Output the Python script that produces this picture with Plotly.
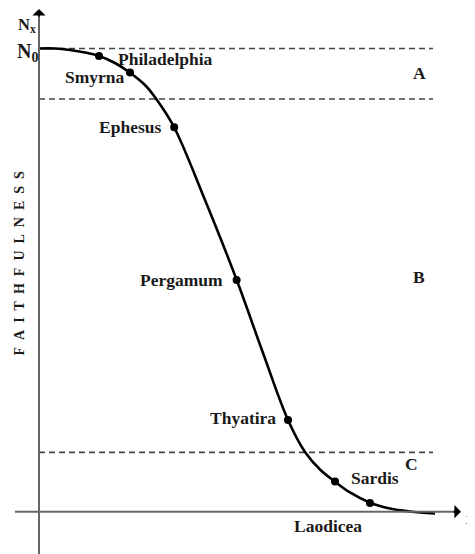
import plotly.graph_objects as go

# ---- data ----
churches = ["Philadelphia", "Smyrna", "Ephesus", "Pergamum", "Thyatira", "Sardis", "Laodicea"]
church_x = [1.5, 2.275, 3.38, 4.94, 6.225, 7.4, 8.275]
church_y = [0.984, 0.948, 0.830, 0.500, 0.198, 0.065, 0.019]

curve_x = [0.0, 0.4, 0.775, 1.15, 1.5, 1.9, 2.275, 2.65, 2.95, 3.375, 4.15, 4.943,
           5.6, 6.225, 6.65, 7.025, 7.4, 7.775, 8.275, 8.775, 9.275, 9.9]
curve_y = [1.0, 1.0, 0.9968, 0.9914, 0.9838, 0.9687, 0.9478, 0.9212, 0.8888, 0.8305,
           0.6729, 0.5002, 0.3426, 0.1980, 0.1289, 0.0911, 0.0648, 0.0415, 0.0194,
           0.0069, 0.0004, -0.0039]

zone_bounds = [1.0, 0.891, 0.128]
zone_labels = ["A", "B", "C"]

# ---- layout helpers ----
OFF = 8            # page body margin
W, H = 475 - OFF, 554 - OFF


def px(x):         # page pixel -> paper x
    return (x - OFF) / W


def py(y):         # page pixel -> paper y
    return 1 - (y - OFF) / H


FONT = "Liberation Serif, Times New Roman, serif"
INK = "#1a1a1a"
label_shift = {
    "Philadelphia": (66, -3), "Smyrna": (-35, -4), "Ephesus": (-44, 0),
    "Pergamum": (-55, 0), "Thyatira": (-45, 2), "Sardis": (40, 4), "Laodicea": (-42, -23),
}
zone_label_pos = [(419, 73), (419, 277), (411, 464)]   # page pixels

fig = go.Figure()
fig.add_trace(go.Scatter(x=curve_x, y=curve_y, mode="lines",
                         line=dict(color="black", width=2.6, shape="spline", smoothing=1.0),
                         hoverinfo="skip"))
fig.add_trace(go.Scatter(x=church_x, y=church_y, mode="markers",
                         marker=dict(color="black", size=8), text=churches,
                         hoverinfo="text"))

shapes = []
for yb in zone_bounds:
    shapes.append(dict(type="line", xref="x", yref="y", x0=0, x1=9.85, y0=yb, y1=yb,
                       line=dict(color="#444444", width=1.6, dash="6px,4px"), layer="below"))
# axes
shapes.append(dict(type="line", xref="paper", yref="y", x0=px(15), x1=px(455), y0=0, y1=0,
                   line=dict(color="#666666", width=2)))
shapes.append(dict(type="line", xref="x", yref="paper", x0=0, x1=0, y0=0, y1=py(15),
                   line=dict(color="#666666", width=2)))

ann = []
# arrowheads (tail offsets in pixels)
ann.append(dict(x=px(461), y=0, ax=-9, ay=0, xref="paper", yref="y",
                text="", showarrow=True, arrowhead=1, arrowsize=1.1,
                arrowwidth=2, arrowcolor="black"))
ann.append(dict(x=0, y=py(9), ax=0, ay=9, xref="x", yref="paper",
                text="", showarrow=True, arrowhead=1, arrowsize=1.1,
                arrowwidth=2, arrowcolor="black"))
for name, cx, cy in zip(churches, church_x, church_y):
    dx, dy = label_shift[name]
    ann.append(dict(x=cx, y=cy, xref="x", yref="y", text=f"<b>{name}</b>", showarrow=False,
                    xanchor="center", yanchor="middle",
                    xshift=dx, yshift=dy, font=dict(family=FONT, size=17.5, color=INK)))


def label(x, y, text, size, **kw):
    d = dict(x=px(x), y=py(y), xref="paper", yref="paper", text=text, showarrow=False,
             xanchor="center", yanchor="middle", font=dict(family=FONT, size=size, color=INK))
    d.update(kw)
    ann.append(d)


for lab, (lx, ly) in zip(zone_labels, zone_label_pos):
    label(lx, ly, f"<b>{lab}</b>", 17.5)
label(27, 25, "<b>N<sub>x</sub></b>", 16.5)
label(27, 52, "<b>N<sub>0</sub></b>", 20)
label(464, 518, "<b>x</b>", 17, xanchor="left")
label(18.5, 263, "<b>" + "\u2002".join("FAITHFULNESS") + "</b>", 14, textangle=-90)

fig.update_layout(
    width=W, height=H, margin=dict(l=0, r=0, t=0, b=0),
    paper_bgcolor="white", plot_bgcolor="white", showlegend=False,
    xaxis=dict(range=[(OFF - 39) / 40, (475 - 39) / 40], visible=False, fixedrange=True),
    yaxis=dict(range=[(511.7 - 554) / 463.2, (511.7 - OFF) / 463.2], visible=False,
               fixedrange=True),
    shapes=shapes, annotations=ann,
)
fig.write_html("out.html")
